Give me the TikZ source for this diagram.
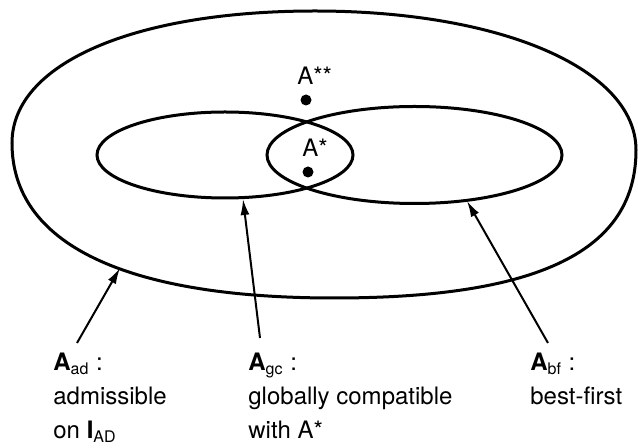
\documentclass[tikz,border=0pt]{standalone}
\usepackage{fontspec}
\setmainfont{TeX Gyre Heros}
\usetikzlibrary{arrows.meta}

\begin{document}
\begin{tikzpicture}[x=0.5pt,y=-0.5pt,
    set/.style={line width=1.5pt},
    pointer/.style={line width=1pt,-{Latex[length=8pt,width=4.5pt]}},
    member/.style={circle,fill,inner sep=0pt,minimum size=5.5pt},
    tag/.style={font=\fontsize{12}{17}\selectfont,inner sep=0pt},
    legend/.style={tag,align=left,anchor=north west}]
    \useasboundingbox (0,0) rectangle (638,448);
    % the three sets
    \draw[set] (12,143) .. controls (12,64) and (133,11) .. (315,11)
      .. controls (501,11) and (636,69) .. (636,150)
      .. controls (636,251) and (539,298) .. (334,298)
      .. controls (125,298) and (12,244) .. (12,143) -- cycle;
    \draw[set] (225,155) ellipse [x radius=128,y radius=43];
    \draw[set] (414.5,155) ellipse [x radius=147.5,y radius=48.5];
    % the two solutions
    \node[member] (ass) at (306,100) {};
    \node[member] (as) at (308,172) {};
    \node[tag,anchor=base west] (lass) at (297,85) {A**};
    \node[tag,anchor=base west] (las) at (302,157) {A*};
    % legends
    \node[legend] (lad) at (53,353) {\textbf{A}\textsubscript{ad} :\\admissible\\on \textbf{I}\textsubscript{AD}};
    \node[legend] (lgc) at (248,353) {\textbf{A}\textsubscript{gc} :\\globally compatible\\with A*};
    \node[legend] (lbf) at (530,353) {\textbf{A}\textsubscript{bf} :\\best-first};
    \coordinate (tad) at (77,343);
    \coordinate (had) at (120,268);
    \coordinate (tgc) at (260,338);
    \coordinate (hgc) at (243,199);
    \coordinate (tbf) at (548,343);
    \coordinate (hbf) at (467,201);
    \foreach \t/\h in {tad/had,tgc/hgc,tbf/hbf}
      \draw[pointer] (\t) -- (\h);
\end{tikzpicture}
\end{document}
